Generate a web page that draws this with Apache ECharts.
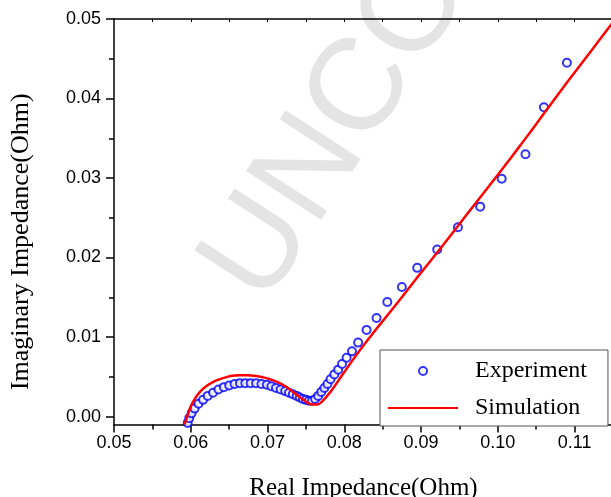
<!DOCTYPE html>
<html><head><meta charset="utf-8">
<script src="https://cdn.jsdelivr.net/npm/echarts@6/dist/echarts.min.js"></script>
<style>html,body{margin:0;padding:0;background:#fff}#c{width:611px;height:497px}</style>
</head><body><div id="c"></div>
<script>
// ---- data ----
const xTickValues = [0.05, 0.06, 0.07, 0.08, 0.09, 0.10, 0.11];
const xMinorTickValues = [0.055, 0.065, 0.075, 0.085, 0.095, 0.105];
const topTickValues = [0.055, 0.06, 0.065, 0.07, 0.075, 0.08, 0.085, 0.09, 0.095, 0.10, 0.105, 0.11];
const yTickValues = [0.00, 0.01, 0.02, 0.03, 0.04, 0.05];
const yMinorTickValues = [0.005, 0.015, 0.025, 0.035, 0.045];

const expX = [0.0596,0.0598,0.0601,0.0605,0.0610,0.0616,0.0622,0.0629,0.0636,0.0643,0.0650,0.0657,0.0664,0.0671,0.0678,0.0685,0.0692,0.0699,0.0705,0.0711,0.0717,0.0723,0.0728,0.0733,0.0738,0.0742,0.0746,0.0750,0.0754,0.0758,0.0762,0.0766,0.0770,0.0774,0.0778,0.0782,0.0787,0.0792,0.0797,0.0803,0.0810,0.0818,0.0829,0.0842,0.0856,0.0875,0.0895,0.0921,0.0948,0.0977,0.1005,0.1036,0.1060,0.1090];
const expY = [-0.0008,-0.0002,0.0004,0.0010,0.0016,0.0021,0.0026,0.0030,0.0034,0.0037,0.0039,0.0041,0.0042,0.0042,0.0042,0.0042,0.0041,0.0040,0.0038,0.0036,0.0034,0.0032,0.0030,0.0028,0.0026,0.0024,0.0022,0.0021,0.0020,0.0020,0.0022,0.0026,0.0031,0.0036,0.0041,0.0047,0.0053,0.0059,0.0066,0.0074,0.0082,0.0093,0.0109,0.0124,0.0144,0.0163,0.0187,0.0210,0.0238,0.0264,0.0299,0.0330,0.0389,0.0445];

const simX = [0.0592,0.0596,0.0600,0.0605,0.0612,0.0620,0.0630,0.0641,0.0652,0.0663,0.0674,0.0685,0.0696,0.0706,0.0716,0.0725,0.0733,0.0740,0.0747,0.0753,0.0759,0.0765,0.0770,0.0776,0.0785,0.0800,0.0820,0.0845,0.0870,0.0895,0.0920,0.0945,0.0970,0.1000,0.1030,0.1060,0.1090,0.1120,0.1150];
const simY = [-0.0010,0.0002,0.0013,0.0022,0.0031,0.0038,0.0044,0.0048,0.0051,0.0052,0.0052,0.0051,0.0049,0.0046,0.0042,0.0037,0.0031,0.0026,0.0021,0.0017,0.0015,0.0015,0.0018,0.0024,0.0035,0.0056,0.0083,0.0114,0.0144,0.0175,0.0205,0.0236,0.0267,0.0304,0.0342,0.0381,0.0420,0.0458,0.0496];

const seriesNames = ['Experiment', 'Simulation'];
const xTitle = 'Real Impedance(Ohm)';
const yTitle = 'Imaginary Impedance(Ohm)';
const watermark = 'UNCORRECTED PROOF';

// ---- chart ----
const X_MIN = 0.05, X_MAX = 0.115, Y_MIN = -0.001, Y_MAX = 0.05;
const fmt = v => Number(v).toFixed(2);
const sans = 'Liberation Sans, Arial, sans-serif';
const serif = 'Liberation Serif, Times New Roman, serif';
const lineSt = {color: '#000', width: 1.5};
const labelSt = {fontFamily: sans, fontSize: 18, color: '#000'};

const chart = echarts.init(document.getElementById('c'), null, {renderer: 'canvas'});
chart.setOption({
  animation: false,
  backgroundColor: '#fff',
  grid: {left: 114, top: 19, width: 499, height: 405.5, containLabel: false, outerBoundsMode: 'none'},
  xAxis: [
    {type: 'value', position: 'bottom', min: X_MIN, max: X_MAX,
     axisLine: {onZero: false, lineStyle: lineSt},
     axisTick: {customValues: xTickValues, length: 8, lineStyle: lineSt},
     axisLabel: Object.assign({customValues: xTickValues, formatter: fmt, margin: 10}, labelSt),
     splitLine: {show: false},
     name: xTitle, nameLocation: 'middle', nameGap: 51,
     nameTextStyle: {fontFamily: serif, fontSize: 25, color: '#000'}},
    {type: 'value', position: 'bottom', min: X_MIN, max: X_MAX,
     axisLine: {show: false, onZero: false},
     axisTick: {customValues: xMinorTickValues, length: 5, lineStyle: lineSt},
     axisLabel: {show: false}, splitLine: {show: false}},
    {type: 'value', position: 'top', min: X_MIN, max: X_MAX,
     axisLine: {onZero: false, lineStyle: lineSt},
     axisTick: {customValues: topTickValues, inside: true, length: 3, lineStyle: {color: '#000', width: 1}},
     axisLabel: {show: false}, splitLine: {show: false}}
  ],
  yAxis: [
    {type: 'value', position: 'left', min: Y_MIN, max: Y_MAX,
     axisLine: {onZero: false, lineStyle: lineSt},
     axisTick: {customValues: yTickValues, length: 8, lineStyle: lineSt},
     axisLabel: Object.assign({customValues: yTickValues, formatter: fmt, margin: 13}, labelSt),
     splitLine: {show: false},
     name: yTitle, nameLocation: 'middle', nameGap: 80,
     nameTextStyle: {fontFamily: serif, fontSize: 26, color: '#000', padding: [0, 40, 0, 0]}},
    {type: 'value', position: 'left', min: Y_MIN, max: Y_MAX,
     axisLine: {show: false, onZero: false},
     axisTick: {customValues: yMinorTickValues, length: 5, lineStyle: lineSt},
     axisLabel: {show: false}, splitLine: {show: false}}
  ],
  legend: {
    data: [{name: seriesNames[0]}, {name: seriesNames[1], itemStyle: {opacity: 0}}],
    orient: 'vertical', left: 380, top: 350,
    padding: [9, 21, 6, 7], itemGap: 13, itemWidth: 70, itemHeight: 8,
    backgroundColor: '#fff', borderColor: '#555', borderWidth: 1,
    textStyle: {fontFamily: serif, fontSize: 24, color: '#000', lineHeight: 24, padding: [0, 0, 0, 12]},
    z: 10
  },
  graphic: [{
    type: 'text', x: 234, y: 288, rotation: 57 * Math.PI / 180, z: -10, silent: true,
    style: {text: watermark, fontSize: 130, fontFamily: sans, fill: '#e4e4e5',
            textAlign: 'left', textVerticalAlign: 'middle'}
  }],
  series: [
    {name: seriesNames[0], type: 'scatter', xAxisIndex: 0, yAxisIndex: 0,
     data: expX.map((x, i) => [x, expY[i]]),
     symbol: 'circle', symbolSize: 8,
     itemStyle: {color: '#fff', borderColor: '#0000ff', borderWidth: 2}, z: 2},
    {name: seriesNames[1], type: 'line', xAxisIndex: 0, yAxisIndex: 0,
     data: simX.map((x, i) => [x, simY[i]]),
     showSymbol: false, symbol: 'none', smooth: 0.3, clip: true,
     lineStyle: {color: '#ff0000', width: 2.5}, itemStyle: {color: '#ff0000'}, z: 3}
  ]
});
</script></body></html>
